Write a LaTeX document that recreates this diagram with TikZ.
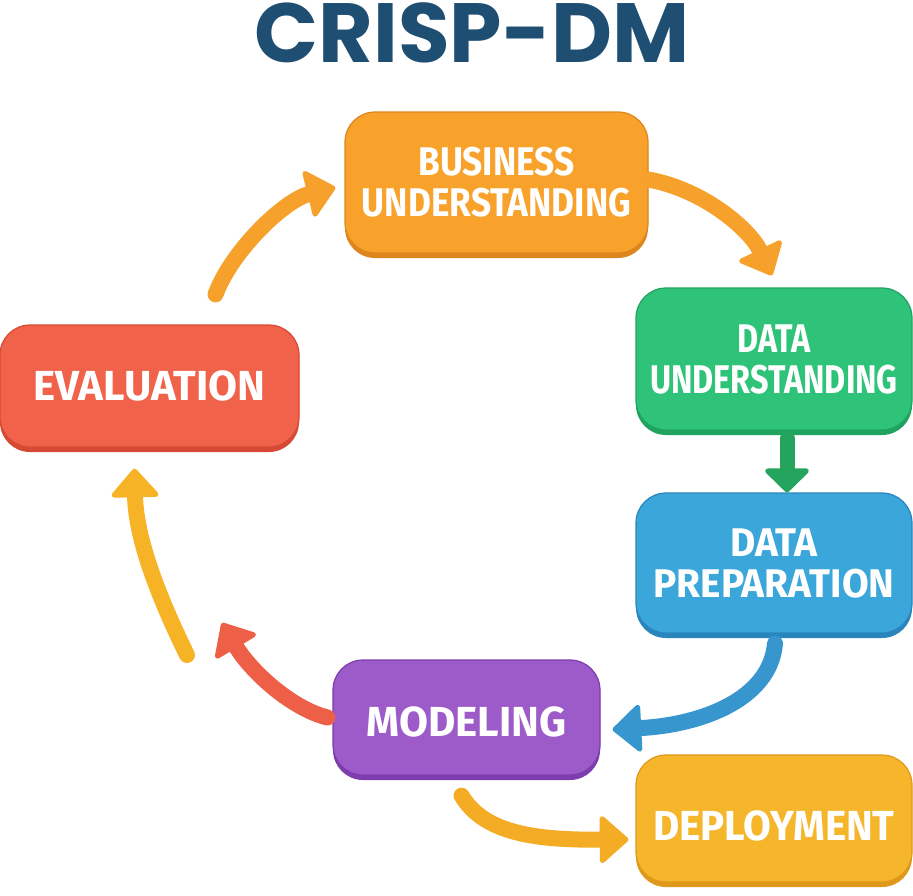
\documentclass[tikz,border=0pt]{standalone}
\usepackage{fontspec}
\usetikzlibrary{arrows.meta,shadows}
\newfontfamily\fsBus{Fira Sans}[FakeStretch=0.88]
\newfontfamily\fsDu{Fira Sans}[FakeStretch=0.81]
\newfontfamily\fsDp{Fira Sans}[FakeStretch=0.97]
\newfontfamily\fsOne{Fira Sans}
\newfontfamily\fsDep{Fira Sans}[FakeStretch=0.96]
\newfontfamily\titlefont{Poppins}
\definecolor{cTitle}{HTML}{1F4E73}
\definecolor{cBus}{HTML}{F8A22C}\definecolor{cBusD}{HTML}{DE861E}
\definecolor{cDu}{HTML}{2FC37A}\definecolor{cDuD}{HTML}{1FA35E}
\definecolor{cDp}{HTML}{3BA6DA}\definecolor{cDpD}{HTML}{2A85BC}
\definecolor{cEv}{HTML}{F0624A}\definecolor{cEvD}{HTML}{D64A35}
\definecolor{cMod}{HTML}{9D5BC9}\definecolor{cModD}{HTML}{7D3DAE}
\definecolor{cDep}{HTML}{F6B62B}\definecolor{cDepD}{HTML}{DE981A}
\definecolor{aOr}{HTML}{F6A12C}
\definecolor{aGr}{HTML}{25A45E}
\definecolor{aBl}{HTML}{3896CF}
\definecolor{aRd}{HTML}{EE5F48}
\definecolor{aYl}{HTML}{F6B326}
\definecolor{aYo}{HTML}{F3AC24}
\tikzset{
  phase/.style={rectangle, rounded corners=30pt, inner sep=0pt, align=center,
    text=white, line width=1.2pt},
  lip/.style={draw=#1, general shadow={fill=#1, shadow xshift=0pt, shadow yshift=-5pt}},
  two/.style={font=#1\bfseries\fontsize{40}{41}\selectfont},
  one/.style={font=#1\bfseries\fontsize{42}{42}\selectfont},
  flow/.style={line width=16pt, line cap=round,
    -{Triangle[width=52pt,length=30pt,round,line width=5pt]}},
  smallflow/.style={line width=15pt, line cap=round,
    -{Triangle[width=50pt,length=25pt,round,line width=5pt]}},
  heading/.style={text=cTitle, font=\titlefont\bfseries\fontsize{84}{84}\selectfont, inner sep=0pt}
}
\begin{document}
\begin{tikzpicture}[x=1pt,y=-1pt]
\useasboundingbox (0,0) rectangle (913,895);
\node[heading] (title) at (472,33) {CRISP-DM};

\node[phase, fill=cBus, lip=cBusD, two=\fsBus, minimum width=303pt, minimum height=141pt] (bus) at (496.5,182.5) {BUSINESS\\UNDERSTANDING};
\node[phase, fill=cDu, lip=cDuD, two=\fsDu, minimum width=276pt, minimum height=142pt] (du) at (774,359) {DATA\\UNDERSTANDING};
\node[phase, fill=cDp, lip=cDpD, two=\fsDp, minimum width=276pt, minimum height=140pt] (dp) at (774,563) {DATA\\PREPARATION};
\node[phase, fill=cEv, lip=cEvD, one=\fsOne, minimum width=299pt, minimum height=122pt] (ev) at (149.5,386) {EVALUATION};
\node[phase, fill=cMod, lip=cModD, one=\fsOne, text height=38pt, text depth=0pt, minimum width=267pt, minimum height=115pt] (mod) at (466.5,717.5) {MODELING};
\node[phase, fill=cDep, lip=cDepD, one=\fsDep, text height=43pt, text depth=0pt, minimum width=276pt, minimum height=127pt] (dep) at (774,818.5) {DEPLOYMENT};

\coordinate (rtip) at (222,623);
\coordinate (ytail) at (187,655);

\draw[flow, draw=aOr] ([xshift=66pt,yshift=30pt]ev.north) .. controls (232,250) and (285,200) .. ([xshift=-9pt,yshift=-5pt]bus.west);
\draw[flow, draw=aOr] ([yshift=3pt]bus.east) .. controls (705,190) and (750,230) .. ([xshift=-2pt,yshift=12pt]du.north);
\draw[smallflow, draw=aGr] ([xshift=13pt,yshift=-8pt]du.south) -- ([xshift=13pt]dp.north);
\draw[flow, draw=aBl] ([xshift=1pt,yshift=-10pt]dp.south) .. controls (770,700) and (700,725) .. ([xshift=12pt,yshift=-12pt]mod.east);
\draw[flow, draw=aRd] ([xshift=-5pt]mod.west) .. controls (290,708) and (250,670) .. (rtip);
\draw[flow, draw=aYl] (ytail) .. controls (166,612) and (136,545) .. ([xshift=-15pt,yshift=-21pt]ev.south);
\draw[flow, draw=aYo] ([xshift=-5pt,yshift=-20pt]mod.south) .. controls (485,835) and (540,840) .. ([xshift=-7pt,yshift=-21pt]dep.west);
\end{tikzpicture}
\end{document}
